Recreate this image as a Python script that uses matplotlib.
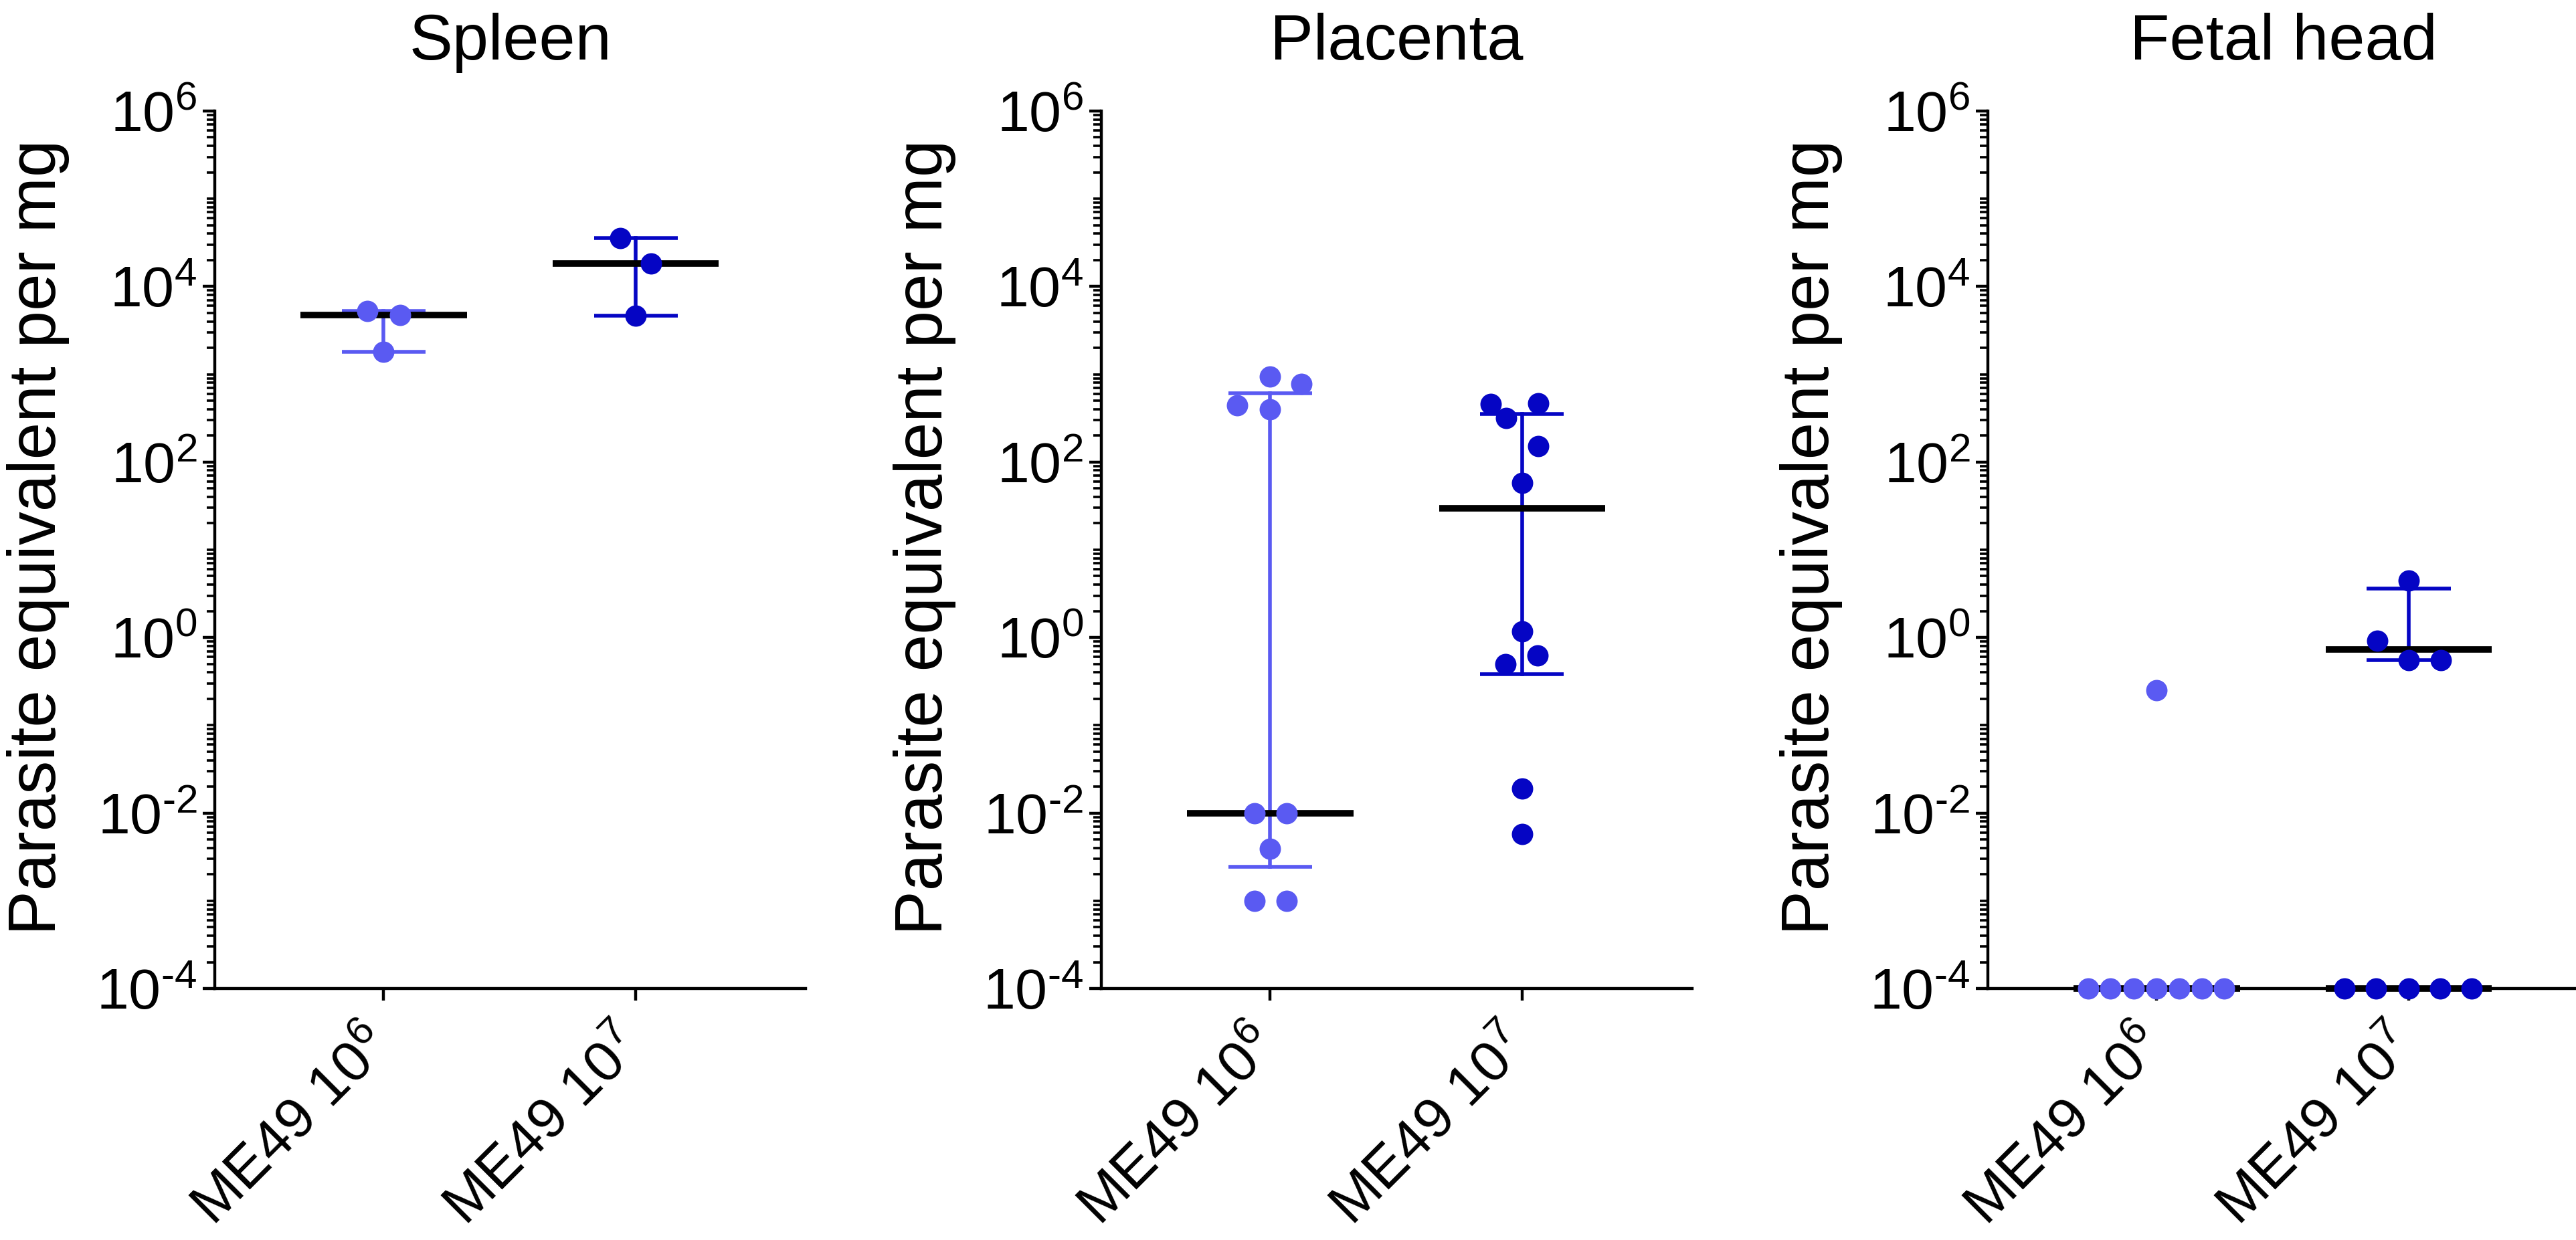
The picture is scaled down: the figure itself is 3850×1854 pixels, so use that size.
import numpy as np
import matplotlib
matplotlib.use('Agg')
import matplotlib.pyplot as plt
from matplotlib.ticker import FixedLocator, LogLocator, NullFormatter
from matplotlib.transforms import ScaledTranslation

plt.rcParams['font.family'] = ['Liberation Sans', 'DejaVu Sans']
plt.rcParams['mathtext.fontset'] = 'custom'
plt.rcParams['mathtext.rm'] = 'Liberation Sans'
plt.rcParams['mathtext.it'] = 'Liberation Sans:italic'
plt.rcParams['mathtext.bf'] = 'Liberation Sans:bold'

# panel titles and group labels
titles = ['Spleen', 'Placenta', 'Fetal head']
groups = [r'ME49 $\mathregular{10^{6}}$', r'ME49 $\mathregular{10^{7}}$']
ylab = 'Parasite equivalent per mg'

# values; 0 = not detected (drawn on the x axis)
spleen_1e6 = [5240, 4720, 1810]
spleen_1e6_dx = [-0.065, 0.065, 0.0]
spleen_1e7 = [35600, 18300, 4620]
spleen_1e7_dx = [-0.062, 0.062, 0.0]

placenta_1e6 = [948, 771, 440, 396, 0.010, 0.010, 0.0039, 0.0010, 0.0010]
placenta_1e6_dx = [0.0, 0.125, -0.13, 0.0, -0.062, 0.066, 0.0, -0.062, 0.066]
placenta_1e7 = [457, 468, 316, 153, 58.3, 1.18, 0.50, 0.63, 0.0191, 0.0058]
placenta_1e7_dx = [-0.125, 0.065, -0.062, 0.065, 0.0, 0.0, -0.066, 0.062, 0.0, 0.0]

fetal_1e6 = [0.25, 0, 0, 0, 0, 0, 0, 0]
fetal_1e6_dx = [0.0, -0.272, -0.184, -0.092, 0.0, 0.09, 0.18, 0.268]
fetal_1e7 = [4.47, 0.92, 0.553, 0.553, 0, 0, 0, 0, 0]
fetal_1e7_dx = [0.0, -0.125, 0.0, 0.127, -0.256, -0.131, 0.0, 0.125, 0.249]

panels = [
    [(spleen_1e6, spleen_1e6_dx), (spleen_1e7, spleen_1e7_dx)],
    [(placenta_1e6, placenta_1e6_dx), (placenta_1e7, placenta_1e7_dx)],
    [(fetal_1e6, fetal_1e6_dx), (fetal_1e7, fetal_1e7_dx)],
]

colors = ['#5a5af2', '#0505c4']
ymin, ymax = 1e-4, 1e6
yticks = [1e-4, 1e-2, 1e0, 1e2, 1e4, 1e6]
# short hyphen for negative exponents, like the original
ytick_labels = [r'$\mathregular{10^{%s}}$' % str(e).replace('-', '\u2010')
                for e in [-4, -2, 0, 2, 4, 6]]

fig = plt.figure(figsize=(38.5, 18.54), dpi=100)
lefts = [0.0834, 0.4275, 0.7717]

for k in range(3):
    ax = fig.add_axes([lefts[k], 0.2028, 0.2294, 0.7077])
    ax.set_yscale('log')
    ax.set_ylim(ymin, ymax)
    ax.set_xlim(-0.67, 1.675)

    for g in range(2):
        vals = np.asarray(panels[k][g][0], float)
        dx = np.asarray(panels[k][g][1], float)
        c = colors[g]
        det = vals > 0
        pos = vals[det]
        # median with interquartile range of detected values
        if len(pos) >= 2:
            q1, med, q3 = np.percentile(pos, [25, 50, 75], method='weibull')
            ax.plot([g, g], [q1, q3], color=c, lw=4, zorder=2)
            for q in (q1, q3):
                ax.plot([g - 0.166, g + 0.166], [q, q], color=c, lw=4,
                        solid_capstyle='butt', zorder=2)
            ax.plot([g - 0.33, g + 0.33], [med, med], color='k', lw=7,
                    solid_capstyle='butt', zorder=3)
        ax.plot(g + dx[det], pos, 'o', color=c, ms=23, mew=0, zorder=4)
        # undetected samples sit on the axis
        if (~det).sum() > 0:
            if (~det).sum() >= 2:
                ax.plot([g - 0.33, g + 0.33], [ymin, ymin], color='k', lw=7,
                        solid_capstyle='butt', zorder=3, clip_on=False)
            ax.plot(g + dx[~det], np.full((~det).sum(), ymin), 'o', color=c,
                    ms=23, mew=0, zorder=4, clip_on=False)

    ax.spines['top'].set_visible(False)
    ax.spines['right'].set_visible(False)
    ax.spines['left'].set_linewidth(3.2)
    ax.spines['bottom'].set_linewidth(3.2)

    ax.yaxis.set_major_locator(FixedLocator(yticks))
    ax.set_yticklabels(ytick_labels)
    ax.yaxis.set_minor_locator(LogLocator(base=10, subs=np.arange(1, 10), numticks=100))
    ax.yaxis.set_minor_formatter(NullFormatter())
    ax.tick_params(axis='y', which='major', length=13, width=3.2, labelsize=62, pad=6)
    ax.tick_params(axis='y', which='minor', length=8.5, width=2.6)

    ax.set_xticks([0, 1])
    ax.set_xticklabels(groups, rotation=45, rotation_mode='anchor',
                       ha='right', va='baseline')
    ax.tick_params(axis='x', length=13, width=3.2, labelsize=62, pad=51)
    for lab in ax.get_xticklabels():
        lab.set_transform(lab.get_transform() + ScaledTranslation(0.13, 0, fig.dpi_scale_trans))

    ax.set_ylabel(ylab, fontsize=72)
    ax.yaxis.set_label_coords(-0.246, 0.514)
    ax.text(0.5, 1.0587, titles[k], transform=ax.transAxes, ha='center',
            va='baseline', fontsize=70)

fig.savefig('out.png', dpi=100)
